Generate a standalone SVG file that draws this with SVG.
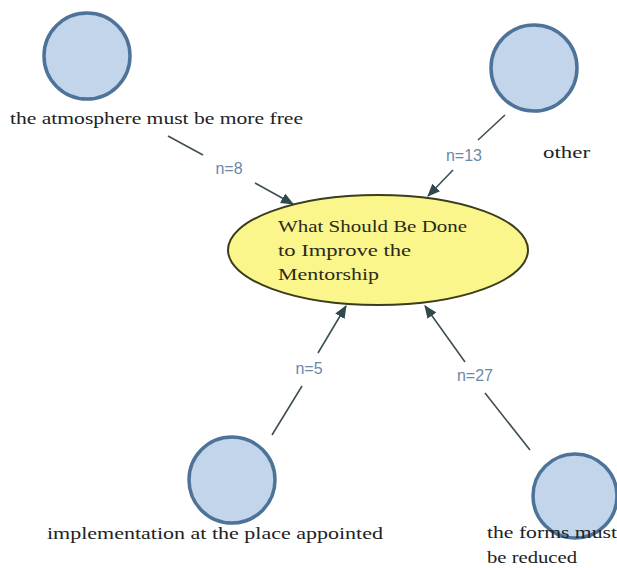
<svg xmlns="http://www.w3.org/2000/svg" width="617" height="568" viewBox="0 0 617 568">
<defs>
<style>
.circ{fill:#c3d5ea;stroke:#4d7398;stroke-width:3.5}
.lbl{font-family:"Liberation Serif",serif;font-size:16px;fill:#222}
.ctr{font-family:"Liberation Serif",serif;font-size:17px;fill:#2a2a1a}
.n{font-family:"Liberation Sans",Arial,sans-serif;font-size:16px;fill:#6a88aa;text-anchor:middle}
.edge{fill:none;stroke:#3e4f55;stroke-width:1.6}
</style>
<marker id="arr" viewBox="0 0 12 10" refX="11" refY="5" markerWidth="13" markerHeight="11" markerUnits="userSpaceOnUse" orient="auto">
<path d="M0,0 L12,5 L0,10 Z" fill="#2f4a4c"/>
</marker>
</defs>
<rect width="617" height="568" fill="#fff"/>
<g id="connectors">
<path class="edge" d="M168,136 L203,155 M255,183 L293,204" marker-end="url(#arr)"/>
<text class="n" x="229" y="174">n=8</text>
<path class="edge" d="M505,115 L478,140 M453,170 L428,196" marker-end="url(#arr)"/>
<text class="n" x="464" y="161">n=13</text>
<path class="edge" d="M272,435 L302,386 M318,353 L346,306" marker-end="url(#arr)"/>
<text class="n" x="309" y="374">n=5</text>
<path class="edge" d="M530,450 L485,393 M465,362 L425,306" marker-end="url(#arr)"/>
<text class="n" x="475" y="381">n=27</text>
</g>
<g id="center">
<ellipse cx="378" cy="250" rx="150" ry="55" fill="#fbf68c" stroke="#3b3d1c" stroke-width="2"/>
<text class="ctr" x="278" y="232" textLength="189" lengthAdjust="spacingAndGlyphs">What Should Be Done</text>
<text class="ctr" x="278" y="256" textLength="133" lengthAdjust="spacingAndGlyphs">to Improve the</text>
<text class="ctr" x="278" y="280" textLength="101" lengthAdjust="spacingAndGlyphs">Mentorship</text>
</g>
<g id="node-atmosphere">
<circle class="circ" cx="87" cy="56" r="43"/>
<text class="lbl" x="10" y="124" textLength="293" lengthAdjust="spacingAndGlyphs">the atmosphere must be more free</text>
</g>
<g id="node-other">
<circle class="circ" cx="534" cy="68" r="43"/>
<text class="lbl" x="543" y="158" textLength="47" lengthAdjust="spacingAndGlyphs">other</text>
</g>
<g id="node-implementation">
<circle class="circ" cx="232" cy="480" r="43"/>
<text class="lbl" x="47" y="539" textLength="336" lengthAdjust="spacingAndGlyphs">implementation at the place appointed</text>
</g>
<g id="node-forms">
<circle class="circ" cx="575" cy="496" r="42"/>
<text class="lbl" x="487" y="538" textLength="130" lengthAdjust="spacingAndGlyphs">the forms must</text>
<text class="lbl" x="487" y="563" textLength="90" lengthAdjust="spacingAndGlyphs">be reduced</text>
</g>
</svg>
